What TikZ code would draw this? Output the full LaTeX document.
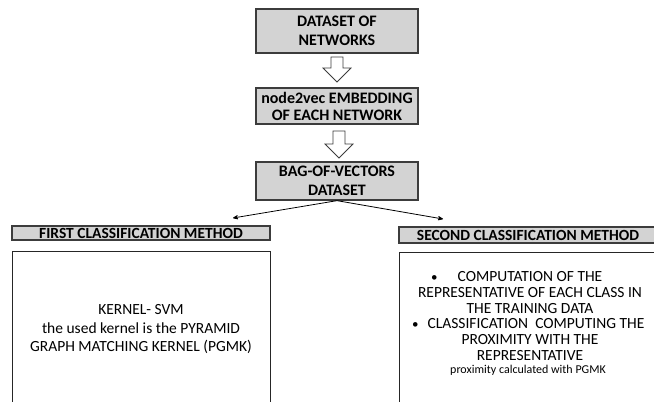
\documentclass[tikz,border=0pt]{standalone}
\usepackage{fontspec}
\setmainfont{Carlito}
\usetikzlibrary{shapes,arrows,positioning,calc}
\definecolor{boxgray}{RGB}{211,211,211}
\definecolor{edgegray}{RGB}{60,60,60}
\tikzstyle{block} = [rectangle, draw=edgegray, line width=1.3pt, fill=boxgray, align=center, minimum width=162pt, inner sep=0pt, font=\bfseries\fontsize{16}{19}\selectfont]
\tikzstyle{header} = [rectangle, draw=edgegray, line width=1.3pt, fill=boxgray, minimum width=258pt, inner sep=0pt, font=\bfseries\fontsize{15.5}{16}\selectfont]
\tikzstyle{panel} = [rectangle, draw=black!85, line width=1pt, minimum width=258pt, minimum height=170pt, anchor=north]
\tikzstyle{bigarrow} = [draw=edgegray, fill=white, line width=0.8pt]
\tikzstyle{output} = [coordinate]
\newcommand{\smallbullet}{{\fontsize{13}{13}\selectfont\textbullet}}

\begin{document}
\begin{tikzpicture}[x=1pt, y=-1pt, >=stealth']
    \useasboundingbox (0,0) rectangle (654,402);
    \clip (0,0) rectangle (654,402);
    \node[block, minimum height=44pt] (dataset) at (337,31) {DATASET OF\\NETWORKS};
    \node[block, minimum height=36pt, font=\bfseries\fontsize{16}{17}\selectfont] (embed) at (337,106) {node2vec EMBEDDING\\OF EACH NETWORK};
    \node[block, minimum height=38pt] (bag) at (337,181) {BAG-OF-VECTORS\\DATASET};

    % hollow arrows between the top blocks
    \node[output] (tip1) at (337,82) {};
    \node[output] (tip2) at (339,158) {};
    \draw[bigarrow] (tip1) -- ++(14,-14) -- ++(-8,0) -- ++(0,-11) -- ++(-12,0) -- ++(0,11) -- ++(-8,0) -- cycle;
    \draw[bigarrow] (tip2) -- ++(14,-14) -- ++(-8,0) -- ++(0,-13) -- ++(-12,0) -- ++(0,13) -- ++(-8,0) -- cycle;

    \node[header, minimum height=14pt] (first) at (141,233) {FIRST CLASSIFICATION METHOD};
    \node[header, minimum height=16pt] (second) at (528,235) {SECOND CLASSIFICATION METHOD};
    \node[panel] (firstpanel) at (141,251) {};
    \node[panel] (secondpanel) at (528,252) {};

    \node[output] (lefttip) at (233,218) {};
    \node[output] (righttip) at (443,219) {};
    \draw[->, line width=0.8pt] (bag.south) -- (lefttip);
    \draw[->, line width=0.8pt] (bag.south) -- (righttip);

    \node[align=center, font=\fontsize{15.5}{18.5}\selectfont] (kernel) at (141,329.5) {KERNEL- SVM\\the used kernel is the PYRAMID\\GRAPH MATCHING KERNEL (PGMK)};
    \node[align=center, font=\fontsize{15.5}{15.9}\selectfont] (steps) at (530,316) {\llap{\smallbullet\hspace{20pt}}COMPUTATION OF THE\\REPRESENTATIVE OF EACH CLASS IN\\THE TRAINING DATA\\\hspace*{12pt}\llap{\smallbullet\hspace{9pt}}CLASSIFICATION\ \ COMPUTING THE\\PROXIMITY WITH THE\\REPRESENTATIVE};
    \node[font=\fontsize{12}{14}\selectfont] (note) at (528,370) {proximity calculated with PGMK};
\end{tikzpicture}
\end{document}
